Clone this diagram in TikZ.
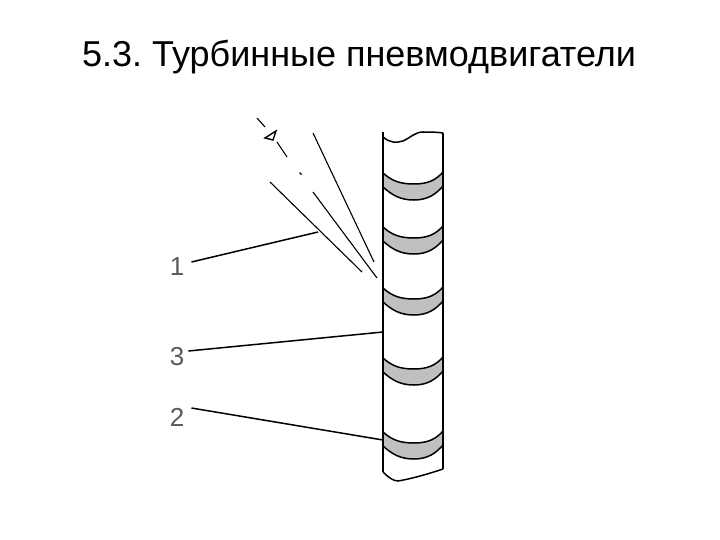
\documentclass[tikz,border=0pt]{standalone}
\usepackage{fontspec}
\setmainfont{Liberation Sans}
\definecolor{bandgrey}{RGB}{192,192,192}
\definecolor{labelgrey}{RGB}{90,90,90}
\tikzset{
  ln/.style={line width=1.5pt,black},
  thin ln/.style={line width=1.1pt,black},
  lab/.style={font=\fontsize{26}{26}\selectfont,text=labelgrey,inner sep=0pt},
  ttl/.style={font=\fontsize{36}{36}\selectfont\frenchspacing,text=black,inner sep=0pt},
  band/.pic={
    \fill[bandgrey] (383,0) .. controls (392,8) and (400,11) .. (414,11) .. controls (428,11) and (436,7) .. (443,-1)
      -- (443,13) .. controls (436,21) and (428,27) .. (414,27) .. controls (400,27) and (392,22) .. (383,14) -- cycle;
    \draw[ln] (383,0) .. controls (392,8) and (400,11) .. (414,11) .. controls (428,11) and (436,7) .. (443,-1);
    \draw[ln] (383,14) .. controls (392,22) and (400,27) .. (414,27) .. controls (428,27) and (436,21) .. (443,13);
  }
}
\begin{document}
\begin{tikzpicture}[x=1pt,y=-1pt]
\useasboundingbox[fill=white] (0,0) rectangle (720,540);
\node[ttl] (title) at (359,57) {5.3. Турбинные пневмодвигатели};
\node[lab] (n1) at (177,267) {1};
\node[lab] (n3) at (177,357) {3};
\node[lab] (n2) at (177,417) {2};
\foreach \y in {173,227,288,358,432} \pic at (0,\y) {band};
\coordinate (tl) at (383,132); \coordinate (bl) at (383,472);
\coordinate (tr) at (443,133); \coordinate (br) at (443,469);
\draw[ln] (tl) -- (bl);
\draw[ln] (tr) -- (br);
\draw[ln] (383,137) .. controls (390,143) and (396,143) .. (403,141) .. controls (410,138) and (415,132) .. (423,132) .. controls (430,132) and (436,132) .. (tr);
\draw[ln] (bl) .. controls (388,477) and (393,481) .. (398,481) .. controls (410,479) and (425,475) .. (br);
% blades
\coordinate (a1) at (313,133); \coordinate (a2) at (374,262);
\coordinate (b1) at (313,192); \coordinate (b2) at (377,278);
\coordinate (c1) at (270,182); \coordinate (c2) at (362,272);
\draw[thin ln] (a1) -- (a2);
\draw[thin ln] (b1) -- (b2);
\draw[thin ln] (c1) -- (c2);
% axis and arrow
\coordinate (d1) at (257,118); \coordinate (d2) at (265,127);
\coordinate (d3) at (277,142); \coordinate (d4) at (287,157);
\draw[thin ln] (d1) -- (d2);
\draw[thin ln] (d3) -- (d4);
\draw[thin ln] (299.5,172.5) -- (301.5,174.5);
\draw[line width=1.4pt] (276,131) -- (265,138) -- (273,140) -- cycle;
% leaders
\coordinate (l1) at (318,232); \coordinate (l3) at (383,332); \coordinate (l2) at (383,440);
\draw[ln] (n1.east) ++(7,-5) -- (l1);
\draw[ln] (n3.east) ++(4,-6) -- (l3);
\draw[ln] (n2.east) ++(7,-9) -- (l2);
\end{tikzpicture}
\end{document}
